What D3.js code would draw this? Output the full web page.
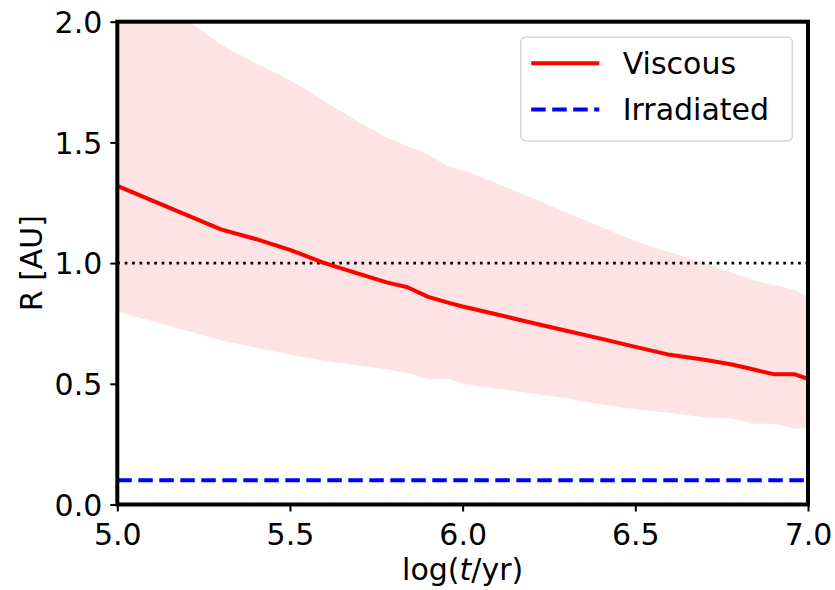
<!DOCTYPE html>
<html>
<head>
<meta charset="utf-8">
<script src="https://cdn.jsdelivr.net/npm/d3@7"></script>
<style>
  body { margin: 0; background: #fff; }
  text { font-family: "DejaVu Sans", sans-serif; }
</style>
</head>
<body>
<div id="chart"></div>
<script>
// log(t/yr) grid
const logT = [5.0, 5.1, 5.2, 5.3, 5.4, 5.5, 5.6, 5.7, 5.78, 5.84, 5.9, 5.96, 6.0,
              6.1, 6.2, 6.3, 6.4, 6.5, 6.6, 6.7, 6.78, 6.84, 6.9, 6.96, 7.0];
const viscous = [1.32, 1.26, 1.20, 1.14, 1.10, 1.055, 1.00, 0.955, 0.92, 0.90, 0.86, 0.835, 0.82,
                 0.787, 0.753, 0.72, 0.687, 0.653, 0.62, 0.60, 0.58, 0.56, 0.54, 0.54, 0.52];
const upper = [2.22, 2.11, 2.01, 1.905, 1.83, 1.757, 1.67, 1.585, 1.52, 1.485, 1.45, 1.40, 1.385,
               1.33, 1.27, 1.21, 1.15, 1.09, 1.045, 1.0, 0.96, 0.93, 0.91, 0.89, 0.86];
const lower = [0.80, 0.76, 0.72, 0.68, 0.65, 0.62, 0.595, 0.575, 0.56, 0.545, 0.52, 0.52, 0.50,
               0.48, 0.46, 0.44, 0.415, 0.395, 0.38, 0.36, 0.357, 0.335, 0.335, 0.315, 0.315];
const irradiated = 0.1;
const refLine = 1.0;
const xTicks = [5.0, 5.5, 6.0, 6.5, 7.0];
const yTicks = [0.0, 0.5, 1.0, 1.5, 2.0];
const legendItems = ["Viscous", "Irradiated"];

const width = 835, height = 590;
const margin = {top: 21.7, right: 27, bottom: 85.5, left: 117.3};
const bodyWidth = width - margin.left - margin.right;
const bodyHeight = height - margin.top - margin.bottom;
const fs = "30px";

const svg = d3.select("#chart").append("svg")
    .attr("width", width)
    .attr("height", height);

const g = svg.append("g")
    .attr("transform", "translate(" + [margin.left, margin.top] + ")");

const xScale = d3.scaleLinear().domain([5, 7]).range([0, bodyWidth]);
const yScale = d3.scaleLinear().domain([0, 2]).range([bodyHeight, 0]);

g.append("clipPath").attr("id", "clip")
  .append("rect").attr("width", bodyWidth).attr("height", bodyHeight);

const plot = g.append("g").attr("clip-path", "url(#clip)");

const rows = logT.map((t, i) => ({t: t, v: viscous[i], hi: upper[i], lo: lower[i]}));

// shaded spread
plot.append("path")
    .datum(rows)
    .attr("fill", "#fde3e3")
    .attr("d", d3.area()
        .x(d => xScale(d.t))
        .y0(d => yScale(d.lo))
        .y1(d => yScale(d.hi)));

// 1 AU reference
plot.append("line")
    .attr("x1", 0).attr("x2", bodyWidth)
    .attr("y1", yScale(refLine)).attr("y2", yScale(refLine))
    .attr("stroke", "black")
    .attr("stroke-width", 2.7)
    .attr("stroke-dasharray", "2.7,4.7");

plot.append("path")
    .datum(rows)
    .attr("fill", "none")
    .attr("stroke", "red")
    .attr("stroke-width", 4)
    .attr("stroke-linejoin", "round")
    .attr("d", d3.line().x(d => xScale(d.t)).y(d => yScale(d.v)));

plot.append("line")
    .attr("x1", xScale(5)).attr("x2", xScale(7))
    .attr("y1", yScale(irradiated)).attr("y2", yScale(irradiated))
    .attr("stroke", "blue")
    .attr("stroke-width", 4)
    .attr("stroke-dasharray", "14.5,6.5");

// axes
const axisX = d3.axisBottom(xScale).tickValues(xTicks).tickFormat(d3.format(".1f")).tickSize(7).tickPadding(12);
const axisY = d3.axisLeft(yScale).tickValues(yTicks).tickFormat(d3.format(".1f")).tickSize(7).tickPadding(8);

const gx = g.append("g").attr("transform", "translate(0," + bodyHeight + ")").call(axisX);
const gy = g.append("g").call(axisY);
[gx, gy].forEach(a => {
    a.select(".domain").remove();
    a.selectAll(".tick line").attr("stroke-width", 2);
    a.selectAll("text").style("font-size", fs).attr("fill", "black")
        .style("font-family", "DejaVu Sans");
});
gx.selectAll("text").attr("dy", "0.71em");
gy.selectAll("text").attr("dy", "0.36em");

g.append("rect")
    .attr("width", bodyWidth).attr("height", bodyHeight)
    .attr("fill", "none").attr("stroke", "black").attr("stroke-width", 4);

// axis labels
const xl = g.append("text")
    .attr("x", bodyWidth / 2).attr("y", bodyHeight + 76)
    .attr("text-anchor", "middle")
    .style("font-size", fs);
xl.append("tspan").text("log(");
xl.append("tspan").style("font-style", "italic").text("t");
xl.append("tspan").text("/yr)");

g.append("text")
    .attr("transform", "translate(" + (-75.5) + "," + (bodyHeight / 2) + ") rotate(-90)")
    .attr("text-anchor", "middle")
    .style("font-size", fs)
    .text("R [AU]");

// legend
const lg = g.append("g").attr("transform", "translate(" + (520.7 - margin.left) + "," + (37.3 - margin.top) + ")");
lg.append("rect")
    .attr("width", 271.6).attr("height", 103.7).attr("rx", 5)
    .attr("fill", "white").attr("fill-opacity", 0.8)
    .attr("stroke", "#d6d6d6").attr("stroke-width", 1.5);
legendItems.forEach((name, i) => {
    const y = 26 + i * 46.3;
    lg.append("line")
        .attr("x1", 10.5).attr("x2", 78.6).attr("y1", y).attr("y2", y)
        .attr("stroke", i === 0 ? "red" : "blue")
        .attr("stroke-width", 4)
        .attr("stroke-dasharray", i === 0 ? null : "14.5,6.5");
    lg.append("text")
        .attr("x", 102).attr("y", y).attr("dy", "0.36em")
        .style("font-size", fs)
        .text(name);
});
</script>
</body>
</html>
